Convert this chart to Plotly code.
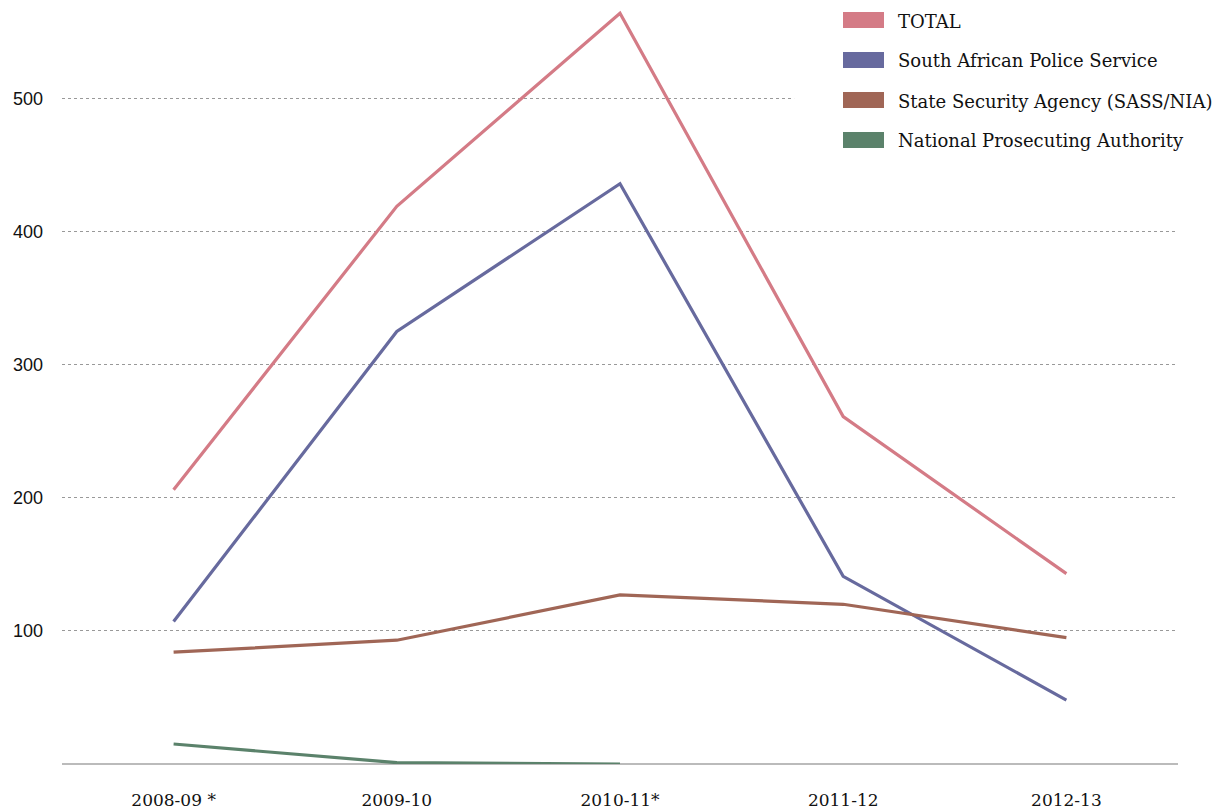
import plotly.graph_objects as go

periods = ["2008-09", "2009-10", "2010-11", "2011-12", "2012-13"]
tick_labels = ["2008-09 *", "2009-10", "2010-11*", "2011-12", "2012-13"]

total = [206, 419, 564, 261, 143]
saps = [107, 325, 436, 141, 48]
ssa = [84, 93, 127, 120, 95]
npa = [15, 1, 0, None, None]

series_names = ["TOTAL", "South African Police Service",
                "State Security Agency (SASS/NIA)", "National Prosecuting Authority"]
series_values = [total, saps, ssa, npa]
colors = ["#D47B86", "#676A9E", "#A06656", "#5B826B"]

y_ticks = [100, 200, 300, 400, 500]

serif = "DejaVu Serif"
sans = "Liberation Sans"

W, H = 1217, 812
ML, MR, MT, MB = 62, 39, 0, 48
PW, PH = W - ML - MR, H - MT - MB

fig = go.Figure()

for name, vals, col in zip(series_names, series_values, colors):
    fig.add_trace(go.Scatter(
        x=periods, y=vals, mode="lines", name=name,
        line=dict(color=col, width=3.2), showlegend=False,
        hoverinfo="x+y+name", connectgaps=False,
    ))

# white band hiding the 500 gridline behind the legend area
fig.add_shape(type="rect", xref="x", yref="y", x0=2.78, x1=4.5, y0=494, y1=506,
              fillcolor="white", line=dict(width=0), layer="above")

# manual legend with rectangular swatches
def px_x(p):
    return (p - ML) / PW

def px_y(p):
    return 1 - (p - MT) / PH

for i, (name, col) in enumerate(zip(series_names, colors)):
    cy = 20 + 40 * i
    fig.add_shape(type="rect", xref="paper", yref="paper",
                  x0=px_x(843), x1=px_x(884), y0=px_y(cy + 8), y1=px_y(cy - 8),
                  fillcolor=col, line=dict(width=0), layer="above")
    fig.add_annotation(xref="paper", yref="paper", x=px_x(896), y=px_y(cy + 1),
                       text=name, showarrow=False, xanchor="left", yanchor="middle",
                       font=dict(family=serif, size=18, color="#111"))

fig.update_layout(
    width=W, height=H,
    margin=dict(l=ML, r=MR, t=MT, b=MB),
    plot_bgcolor="white", paper_bgcolor="white",
    font=dict(family=serif, size=16, color="#111"),
    showlegend=False,
    xaxis=dict(
        type="category", range=[-0.5, 4.5],
        tickmode="array", tickvals=periods, ticktext=tick_labels,
        showgrid=False, zeroline=False, showline=False, ticks="",
        tickfont=dict(family=serif, size=17, color="#111"),
        ticklabelstandoff=24,
    ),
    yaxis=dict(
        range=[0, 574], tickmode="array", tickvals=y_ticks,
        showgrid=True, gridcolor="#999", griddash="dot", gridwidth=1,
        zeroline=True, zerolinecolor="#bbb", zerolinewidth=2,
        showline=False, ticks="",
        tickfont=dict(family=sans, size=18, color="#111"),
        ticklabelstandoff=18,
    ),
)

fig.write_html("out.html", config={"displayModeBar": False},
               post_script="document.body.style.margin='0';document.body.style.overflow='hidden';")
